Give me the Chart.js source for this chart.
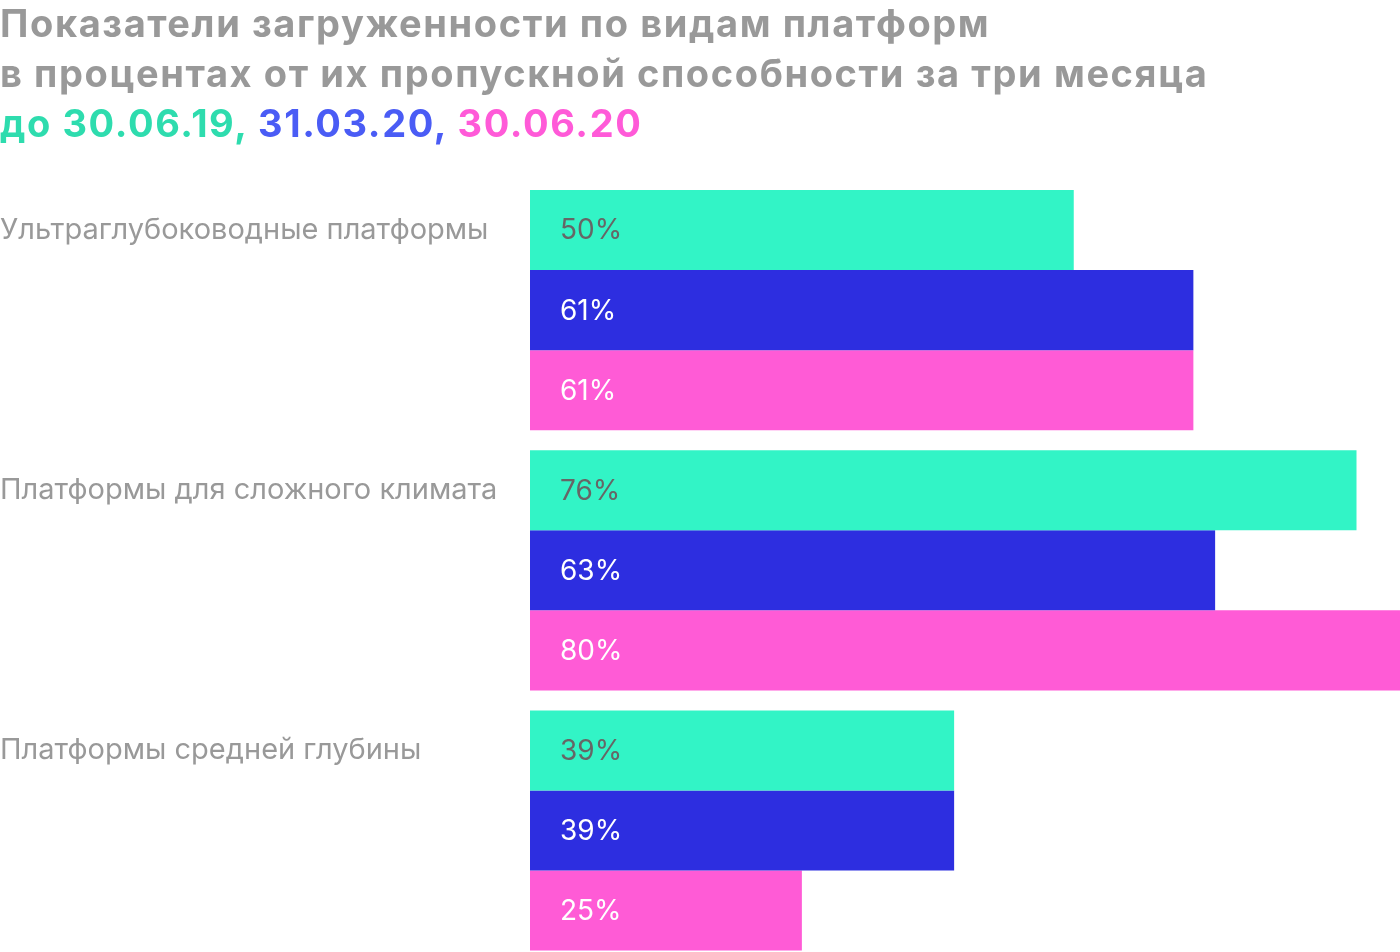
<!DOCTYPE html>
<html>
<head>
<meta charset="utf-8">
<script src="https://cdn.jsdelivr.net/npm/chart.js@4"></script>
<style>
  html, body { margin: 0; padding: 0; background: #fff; overflow: hidden; }
  .wrap { position: relative; width: 1400px; height: 978px; }
  .title {
    position: absolute; left: 0; top: 0;
    font-family: Inter, sans-serif; font-weight: 700; font-size: 38px;
    letter-spacing: 1.6px;
    line-height: 50px; color: #999999; white-space: nowrap; margin-top: -2px;
  }
  .g { color: #2edcae; } .b { color: #4a5cf5; } .p { color: #ff5ad8; }
  canvas { position: absolute; left: 0; top: 0; }
</style>
</head>
<body>
<div class="wrap">
  <canvas id="myChart" width="1400" height="978"></canvas>
  <div class="title">
    Показатели загруженности по видам платформ<br>
    в процентах от их пропускной способности за три месяца<br>
    <span class="g">до 30.06.19,</span> <span class="b">31.03.20,</span> <span class="p">30.06.20</span>
  </div>
</div>
<script>
const categories = ['Ультраглубоководные платформы', 'Платформы для сложного климата', 'Платформы средней глубины'];
const seriesNames = ['30.06.19', '31.03.20', '30.06.20'];
const values2019 = [50, 76, 39];
const valuesMar20 = [61, 63, 39];
const valuesJun20 = [61, 80, 25];

const colors = ['#32f4c6', '#2d2ee0', '#ff5bd6'];
const labelColors = ['#666666', '#ffffff', '#ffffff'];

// value labels inside bars
const valueLabels = {
  id: 'valueLabels',
  afterDatasetsDraw(chart) {
    const ctx = chart.ctx;
    ctx.save();
    ctx.font = '28px Inter, sans-serif';
    ctx.textBaseline = 'middle';
    ctx.textAlign = 'left';
    chart.data.datasets.forEach((ds, i) => {
      const meta = chart.getDatasetMeta(i);
      ctx.fillStyle = labelColors[i];
      meta.data.forEach((bar, j) => {
        ctx.fillText(ds.data[j] + '%', bar.base + 30, bar.y + 1);
      });
    });
    ctx.restore();
  }
};

const data = {
  labels: categories,
  datasets: [
    { label: seriesNames[0], data: values2019, backgroundColor: colors[0] },
    { label: seriesNames[1], data: valuesMar20, backgroundColor: colors[1] },
    { label: seriesNames[2], data: valuesJun20, backgroundColor: colors[2] }
  ]
};

const config = {
  type: 'bar',
  data,
  options: {
    indexAxis: 'y',
    responsive: false,
    animation: false,
    layout: { padding: { top: 180, left: 0, right: 0, bottom: 0 } },
    datasets: {
      bar: { barPercentage: 1, categoryPercentage: 240 / 260, borderWidth: 0 }
    },
    scales: {
      x: { display: false, min: 0, max: 80 },
      y: {
        grid: { display: false },
        border: { display: false },
        ticks: {
          crossAlign: 'far',
          labelOffset: -80,
          color: '#999999',
          padding: 0,
          font: { family: 'Inter, sans-serif', size: 29 }
        },
        afterFit(scale) { scale.width = 530; }
      }
    },
    plugins: {
      legend: { display: false },
      tooltip: { enabled: false }
    }
  },
  plugins: [valueLabels]
};

const myChart = new Chart(document.getElementById('myChart'), config);
</script>
</body>
</html>
